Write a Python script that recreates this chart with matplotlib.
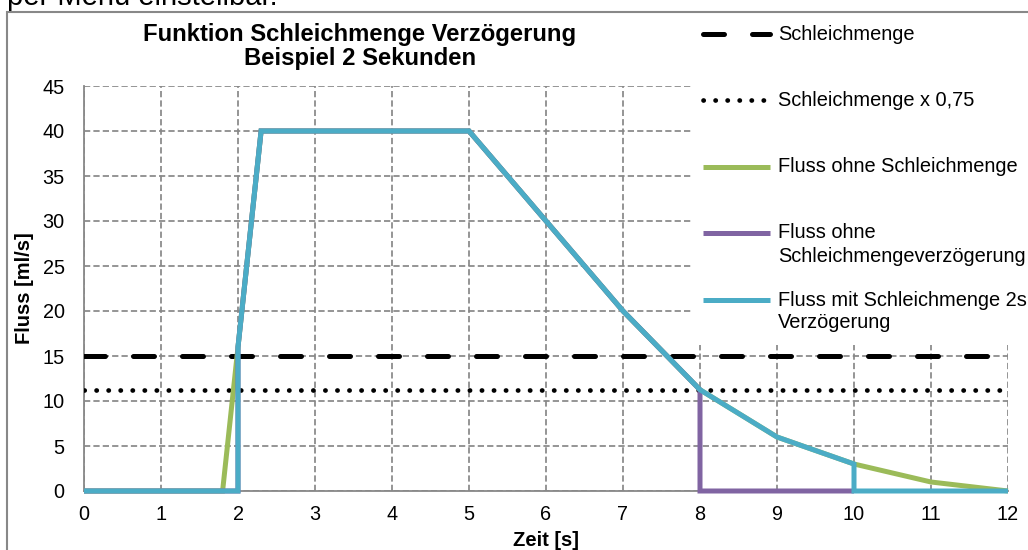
import matplotlib
matplotlib.use("Agg")
import matplotlib.pyplot as plt
from matplotlib.patches import Rectangle

plt.rcParams["font.family"] = ["Liberation Sans", "DejaVu Sans"]

# data
zeit_ohne = [0, 1.8, 2.3, 5, 6, 7, 8, 9, 10, 11, 12]
fluss_ohne = [0, 0, 40, 40, 30, 20, 11.25, 6, 3, 1, 0]

zeit_ohne_verz = [0, 2, 2, 2.3, 5, 6, 7, 8, 8, 10]
fluss_ohne_verz = [0, 0, 16, 40, 40, 30, 20, 11.25, 0, 0]

zeit_mit_verz = [0, 2, 2, 2.3, 5, 6, 7, 8, 9, 10, 10, 12]
fluss_mit_verz = [0, 0, 16, 40, 40, 30, 20, 11.25, 6, 3, 0, 0]

schleichmenge = 15
faktor = 0.75
x_ticks = list(range(0, 13))
y_ticks = list(range(0, 50, 5))

legend_labels = [
    ["Schleichmenge"],
    ["Schleichmenge x 0,75"],
    ["Fluss ohne Schleichmenge"],
    ["Fluss ohne", "Schleichmengeverzögerung"],
    ["Fluss mit Schleichmenge 2s", "Verzögerung"],
]

GREEN = "#9BBB59"
PURPLE = "#8064A2"
BLUE = "#4BACC6"
GRID = "#888888"
W, H = 1028, 550

DASHED = dict(color="black", lw=3.6, linestyle=(0, (4.2, 5.6)), dash_capstyle="round")
DOTTED = dict(color="black", lw=3.4, linestyle=(0, (0.05, 2.5)), dash_capstyle="round")
SOLID = dict(lw=3.6, solid_capstyle="butt", solid_joinstyle="miter")

fig = plt.figure(figsize=(W / 100, H / 100), dpi=100)
ax = fig.add_axes([84 / W, (H - 491) / H, 924 / W, 405 / H])

ax.axhline(schleichmenge, zorder=3, **DASHED)
ax.axhline(schleichmenge * faktor, zorder=3, **DOTTED)
ax.plot(zeit_ohne, fluss_ohne, color=GREEN, zorder=4, clip_on=False, **SOLID)
ax.plot(zeit_ohne_verz, fluss_ohne_verz, color=PURPLE, zorder=5, clip_on=False, **SOLID)
ax.plot(zeit_mit_verz, fluss_mit_verz, color=BLUE, zorder=6, clip_on=False, **SOLID)

ax.set_xlim(0, 12)
ax.set_ylim(0, 45)
ax.set_xticks(x_ticks)
ax.set_yticks(y_ticks)
ax.tick_params(length=0, labelsize=14.3)
ax.tick_params(axis="x", pad=10)
ax.tick_params(axis="y", pad=14)
ax.grid(True, color=GRID, linestyle=(0, (3.6, 1.8)), lw=1.25)
ax.set_axisbelow(True)
for side in ("top", "right"):
    ax.spines[side].set_visible(False)
for side in ("left", "bottom"):
    ax.spines[side].set_color(GRID)
    ax.spines[side].set_linewidth(1.3)
    ax.spines[side].set_zorder(2.5)

ax.set_xlabel("Zeit [s]", fontsize=14.5, fontweight="bold")
ax.set_ylabel("Fluss [ml/s]", fontsize=14.5, fontweight="bold")
ax.xaxis.set_label_coords(0.5, (491 - 541) / 405, transform=ax.transAxes)
ax.yaxis.set_label_coords((25 - 84) / 924, (491 - 288) / 405, transform=ax.transAxes)
ax.xaxis.label.set_va("center")
ax.yaxis.label.set_va("center")

# title
fig.text(360 / W, 1 - 34 / H, "Funktion Schleichmenge Verzögerung",
         ha="center", va="center", fontsize=17.2, fontweight="bold")
fig.text(360 / W, 1 - 59 / H, "Beispiel 2 Sekunden",
         ha="center", va="center", fontsize=17.2, fontweight="bold")

# legend drawn on a white box in pixel coordinates
lx0, ly1 = 693, 345
lax = fig.add_axes([lx0 / W, (H - ly1) / H, (W - lx0) / W, ly1 / H])
lax.set_xlim(lx0, W)
lax.set_ylim(ly1, 0)
lax.set_facecolor("white")
lax.set_xticks([])
lax.set_yticks([])
for sp in lax.spines.values():
    sp.set_visible(False)

handle_rows = [34, 100, 167, 233, 300]
line_styles = [
    dict(**DASHED),
    dict(**DOTTED),
    dict(color=GREEN, **SOLID),
    dict(color=PURPLE, **SOLID),
    dict(color=BLUE, **SOLID),
]
for y, style, lines in zip(handle_rows, line_styles, legend_labels):
    lax.plot([703, 770], [y, y], **style)
    for k, txt in enumerate(lines):
        lax.text(778, y + k * 23, txt, ha="left", va="center", fontsize=14.4)

# outer chart frame and cut-off text above it
fig.add_artist(Rectangle((7 / W, -0.5), 2, (H - 12) / H + 0.5, fill=False,
                         edgecolor=GRID, lw=1.5, transform=fig.transFigure, zorder=10))
fig.text(7 / W, 1 - 5 / H, "per Menü einstellbar.", ha="left", va="baseline", fontsize=21)

fig.savefig("out.png", dpi=100)
